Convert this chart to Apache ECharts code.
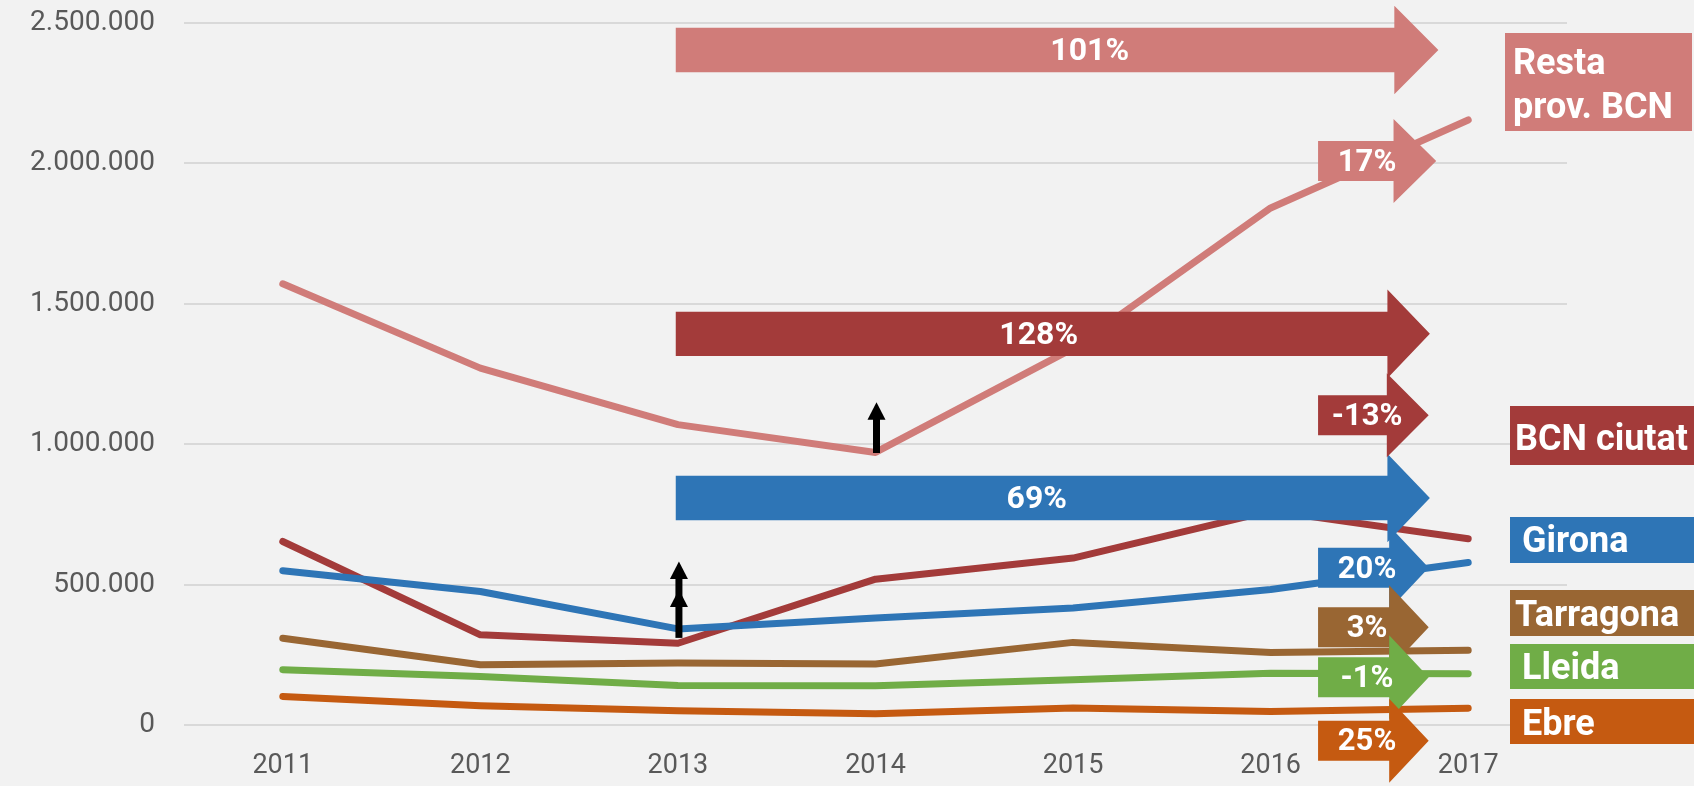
<!DOCTYPE html>
<html>
<head>
<meta charset="utf-8">
<title>Evolució per zones 2011-2017</title>
<script src="https://cdn.jsdelivr.net/npm/echarts@6/dist/echarts.min.js"></script>
<style>
  html, body { margin: 0; padding: 0; background: #f2f2f2; }
  #chart { width: 1694px; height: 786px; }
</style>
</head>
<body>
<div id="chart"></div>
<script>
// data
const years = ['2011', '2012', '2013', '2014', '2015', '2016', '2017'];
const restaProvBCN = [1570000, 1270000, 1069000, 970000, 1340000, 1840000, 2153000];
const bcnCiutat = [653000, 321000, 291000, 519000, 594000, 762000, 663000];
const girona = [549000, 475000, 342000, 381000, 416000, 482000, 578000];
const tarragona = [309000, 214500, 220500, 217000, 294000, 258000, 266000];
const lleida = [196700, 173000, 141000, 140000, 161000, 184000, 182000];
const ebre = [101700, 68700, 50900, 40200, 60500, 48000, 60000];

const seriesNames = ['Resta prov. BCN', 'BCN ciutat', 'Girona', 'Tarragona', 'Lleida', 'Ebre'];
const seriesValues = [restaProvBCN, bcnCiutat, girona, tarragona, lleida, ebre];
const change2013to2017 = ['101%', '128%', '69%'];            // Resta, BCN, Girona
const change2016to2017 = ['17%', '-13%', '20%', '3%', '-1%', '25%'];

const colors = ['#d07c79', '#a33b3a', '#2e75b6', '#996633', '#70ad47', '#c55a11'];

// annotation placement (x as fractional category index, y as axis value)
const bigArrowPos = [
  { from: 1.989, bodyEnd: 5.626, tip: 5.849, at: 2402000, textAt: 4.084 },
  { from: 1.989, bodyEnd: 5.591, tip: 5.806, at: 1392000, textAt: 3.826 },
  { from: 1.989, bodyEnd: 5.591, tip: 5.806, at: 808000, textAt: 3.816 }
];
const smallArrowPos = [
  { from: 5.240, bodyEnd: 5.622, tip: 5.838, at: 2007000 },
  { from: 5.240, bodyEnd: 5.588, tip: 5.800, at: 1102000 },
  { from: 5.240, bodyEnd: 5.600, tip: 5.800, at: 559500 },
  { from: 5.240, bodyEnd: 5.600, tip: 5.800, at: 348000 },
  { from: 5.240, bodyEnd: 5.600, tip: 5.800, at: 170000 },
  { from: 5.240, bodyEnd: 5.600, tip: 5.800, at: -56000 }
];
const pointerPos = [
  { cat: 2, from: 310000, heads: [582000, 482000] },
  { cat: 3, from: 968000, heads: [1149000] }
];
// name tags on the right (pixels)
const tagLayout = [
  { x: 1505, y: 33, w: 187, h: 98, tx: 1513, ty: [65, 109], lines: ['Resta', 'prov. BCN'] },
  { x: 1510, y: 406, w: 200, h: 59, tx: 1515, ty: [441] },
  { x: 1510, y: 517, w: 200, h: 46, tx: 1522, ty: [543] },
  { x: 1510, y: 590, w: 200, h: 46, tx: 1515, ty: [617] },
  { x: 1510, y: 644, w: 200, h: 45, tx: 1522, ty: [670] },
  { x: 1510, y: 699, w: 200, h: 45, tx: 1522, ty: [726] }
];

function xAt(api, f) {
  const x0 = api.coord([0, 0])[0];
  const step = api.coord([1, 0])[0] - x0;
  return x0 + f * step;
}

function arrowPoints(api, p, bodyHalf, headHalf) {
  const x0 = xAt(api, p.from), x1 = xAt(api, p.bodyEnd), x2 = xAt(api, p.tip);
  const y = api.coord([0, p.at])[1];
  return {
    y: y,
    points: [
      [x0, y - bodyHalf], [x1, y - bodyHalf], [x1, y - headHalf], [x2, y],
      [x1, y + headHalf], [x1, y + bodyHalf], [x0, y + bodyHalf]
    ]
  };
}

function arrowSeries(posList, labels, colorIdx, bodyHalf, headHalf, fontSize, big) {
  return {
    type: 'custom',
    z: 5,
    silent: true,
    data: posList.map((_, i) => [i, 0]),
    renderItem: function (params, api) {
      const p = posList[params.dataIndex];
      const a = arrowPoints(api, p, bodyHalf, headHalf);
      const tx = big ? xAt(api, p.textAt) : xAt(api, 5.488);
      return {
        type: 'group',
        children: [
          {
            type: 'polygon',
            shape: { points: a.points },
            style: { fill: colors[colorIdx[params.dataIndex]] }
          },
          {
            type: 'text',
            style: {
              text: labels[params.dataIndex],
              x: tx,
              y: a.y + 2,
              fill: '#ffffff',
              fontFamily: 'Roboto',
              fontWeight: 'bold',
              fontSize: fontSize,
              align: 'center',
              verticalAlign: 'middle'
            }
          }
        ]
      };
    }
  };
}

const chart = echarts.init(document.getElementById('chart'));

const lineSeries = seriesNames.map((name, i) => ({
  name: name,
  type: 'line',
  data: seriesValues[i],
  symbol: 'none',
  z: 2,
  lineStyle: { color: colors[i], width: 7, cap: 'round', join: 'round' }
}));

const pointerSeries = {
  type: 'custom',
  z: 6,
  silent: true,
  data: pointerPos.map((_, i) => [i, 0]),
  renderItem: function (params, api) {
    const p = pointerPos[params.dataIndex];
    const x = api.coord([p.cat, 0])[0] + 1;
    const yBase = api.coord([0, p.from])[1];
    const yTop = api.coord([0, p.heads[0]])[1];
    const children = [{
      type: 'rect',
      shape: { x: x - 3.5, y: yTop + 10, width: 7, height: yBase - yTop - 10 },
      style: { fill: '#000000' }
    }];
    p.heads.forEach(function (h) {
      const yt = api.coord([0, h])[1];
      children.push({
        type: 'polygon',
        shape: { points: [[x, yt], [x + 9, yt + 17.5], [x - 9, yt + 17.5]] },
        style: { fill: '#000000' }
      });
    });
    return { type: 'group', children: children };
  }
};

const tagGraphics = tagLayout.map((t, i) => {
  const lines = t.lines || [seriesNames[i]];
  return {
    type: 'group',
    z: 100,
    children: [
      { type: 'rect', z: 100, shape: { x: t.x, y: t.y, width: t.w, height: t.h }, style: { fill: colors[i] } }
    ].concat(lines.map((ln, j) => ({
      type: 'text',
      z: 101,
      style: {
        text: ln,
        x: t.tx,
        y: t.ty[j],
        fill: '#ffffff',
        fontFamily: 'Roboto',
        fontWeight: 'bold',
        fontSize: 36,
        align: 'left',
        verticalAlign: 'middle'
      }
    })))
  };
});

chart.setOption({
  backgroundColor: '#f2f2f2',
  animation: false,
  grid: { left: 184, right: 127, top: 22.5, bottom: 61, containLabel: false },
  xAxis: {
    type: 'category',
    data: years,
    boundaryGap: true,
    axisLine: { show: false },
    axisTick: { show: false },
    axisLabel: { color: '#595959', fontFamily: 'Roboto', fontSize: 27, margin: 28 }
  },
  yAxis: {
    type: 'value',
    min: 0,
    max: 2500000,
    interval: 500000,
    axisLine: { show: false },
    axisTick: { show: false },
    splitLine: { lineStyle: { color: '#d9d9d9', width: 2 } },
    axisLabel: {
      color: '#595959',
      fontFamily: 'Roboto',
      fontSize: 28,
      margin: 29,
      formatter: v => String(v).replace(/\B(?=(\d{3})+(?!\d))/g, '.')
    }
  },
  series: lineSeries.concat([
    arrowSeries(bigArrowPos, change2013to2017, [0, 1, 2], 22.2, 44.3, 32, true),
    arrowSeries(smallArrowPos, change2016to2017, [0, 1, 2, 3, 4, 5], 20, 42, 31, false),
    pointerSeries
  ]),
  graphic: tagGraphics
});
</script>
</body>
</html>
